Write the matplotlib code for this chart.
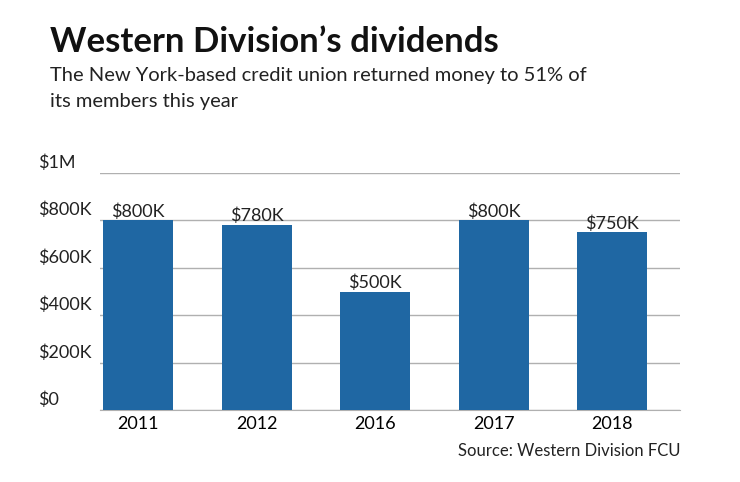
import matplotlib
matplotlib.use("Agg")
import matplotlib.pyplot as plt

years = ["2011", "2012", "2016", "2017", "2018"]
values = [800, 780, 500, 800, 750]
bar_labels = ["$800K", "$780K", "$500K", "$800K", "$750K"]
yticks = [0, 200, 400, 600, 800, 1000]
ytick_labels = ["$0", "$200K", "$400K", "$600K", "$800K", "$1M"]

plt.rcParams['font.family'] = ['Lato', 'DejaVu Sans']
W, H = 740, 482
fig = plt.figure(figsize=(W/100, H/100), dpi=100)
ax = fig.add_axes([100/W, (H-410)/H, 580/W, (410-173)/H])
x = list(range(len(years)))
ax.bar(x, values, width=0.59, color="#1f67a3", zorder=3)
ax.set_xlim(-0.32, 4.57)
ax.set_ylim(0, 1000)
ax.set_yticks(yticks)
ax.yaxis.grid(True, color="#b0b0b0", lw=1, zorder=0)
ax.tick_params(axis='y', length=0, labelleft=False)
ax.tick_params(axis='x', length=0, labelsize=13, pad=4)
ax.set_xticks(x, years)
for s in ["top", "right", "left"]:
    ax.spines[s].set_visible(False)
ax.spines["bottom"].set_color("#b0b0b0")
for yv, lab in zip(yticks, ytick_labels):
    ax.text(38/W, (H-410)/H + yv/1000*(410-173)/H + 2/H, lab, transform=fig.transFigure,
            fontsize=13, va='bottom', ha='left', color="#222222")
for xi, v, lab in zip(x, values, bar_labels):
    ax.text(xi, v + 3, lab, ha='center', va='bottom', fontsize=13, color="#222222", zorder=4)

fig.text(50/W, 1-42/H, "Western Division’s dividends", fontsize=25, fontweight='bold',
         va='center', ha='left', color="#111111")
fig.text(50/W, 1-75/H, "The New York-based credit union returned money to 51% of", fontsize=14.5,
         va='center', ha='left', color="#222222")
fig.text(50/W, 1-102/H, "its members this year", fontsize=14.5, va='center', ha='left', color="#222222")
fig.text(680/W, 1-451/H, "Source: Western Division FCU", fontsize=12, va='center', ha='right', color="#222222")
fig.savefig("out.png", dpi=100)
